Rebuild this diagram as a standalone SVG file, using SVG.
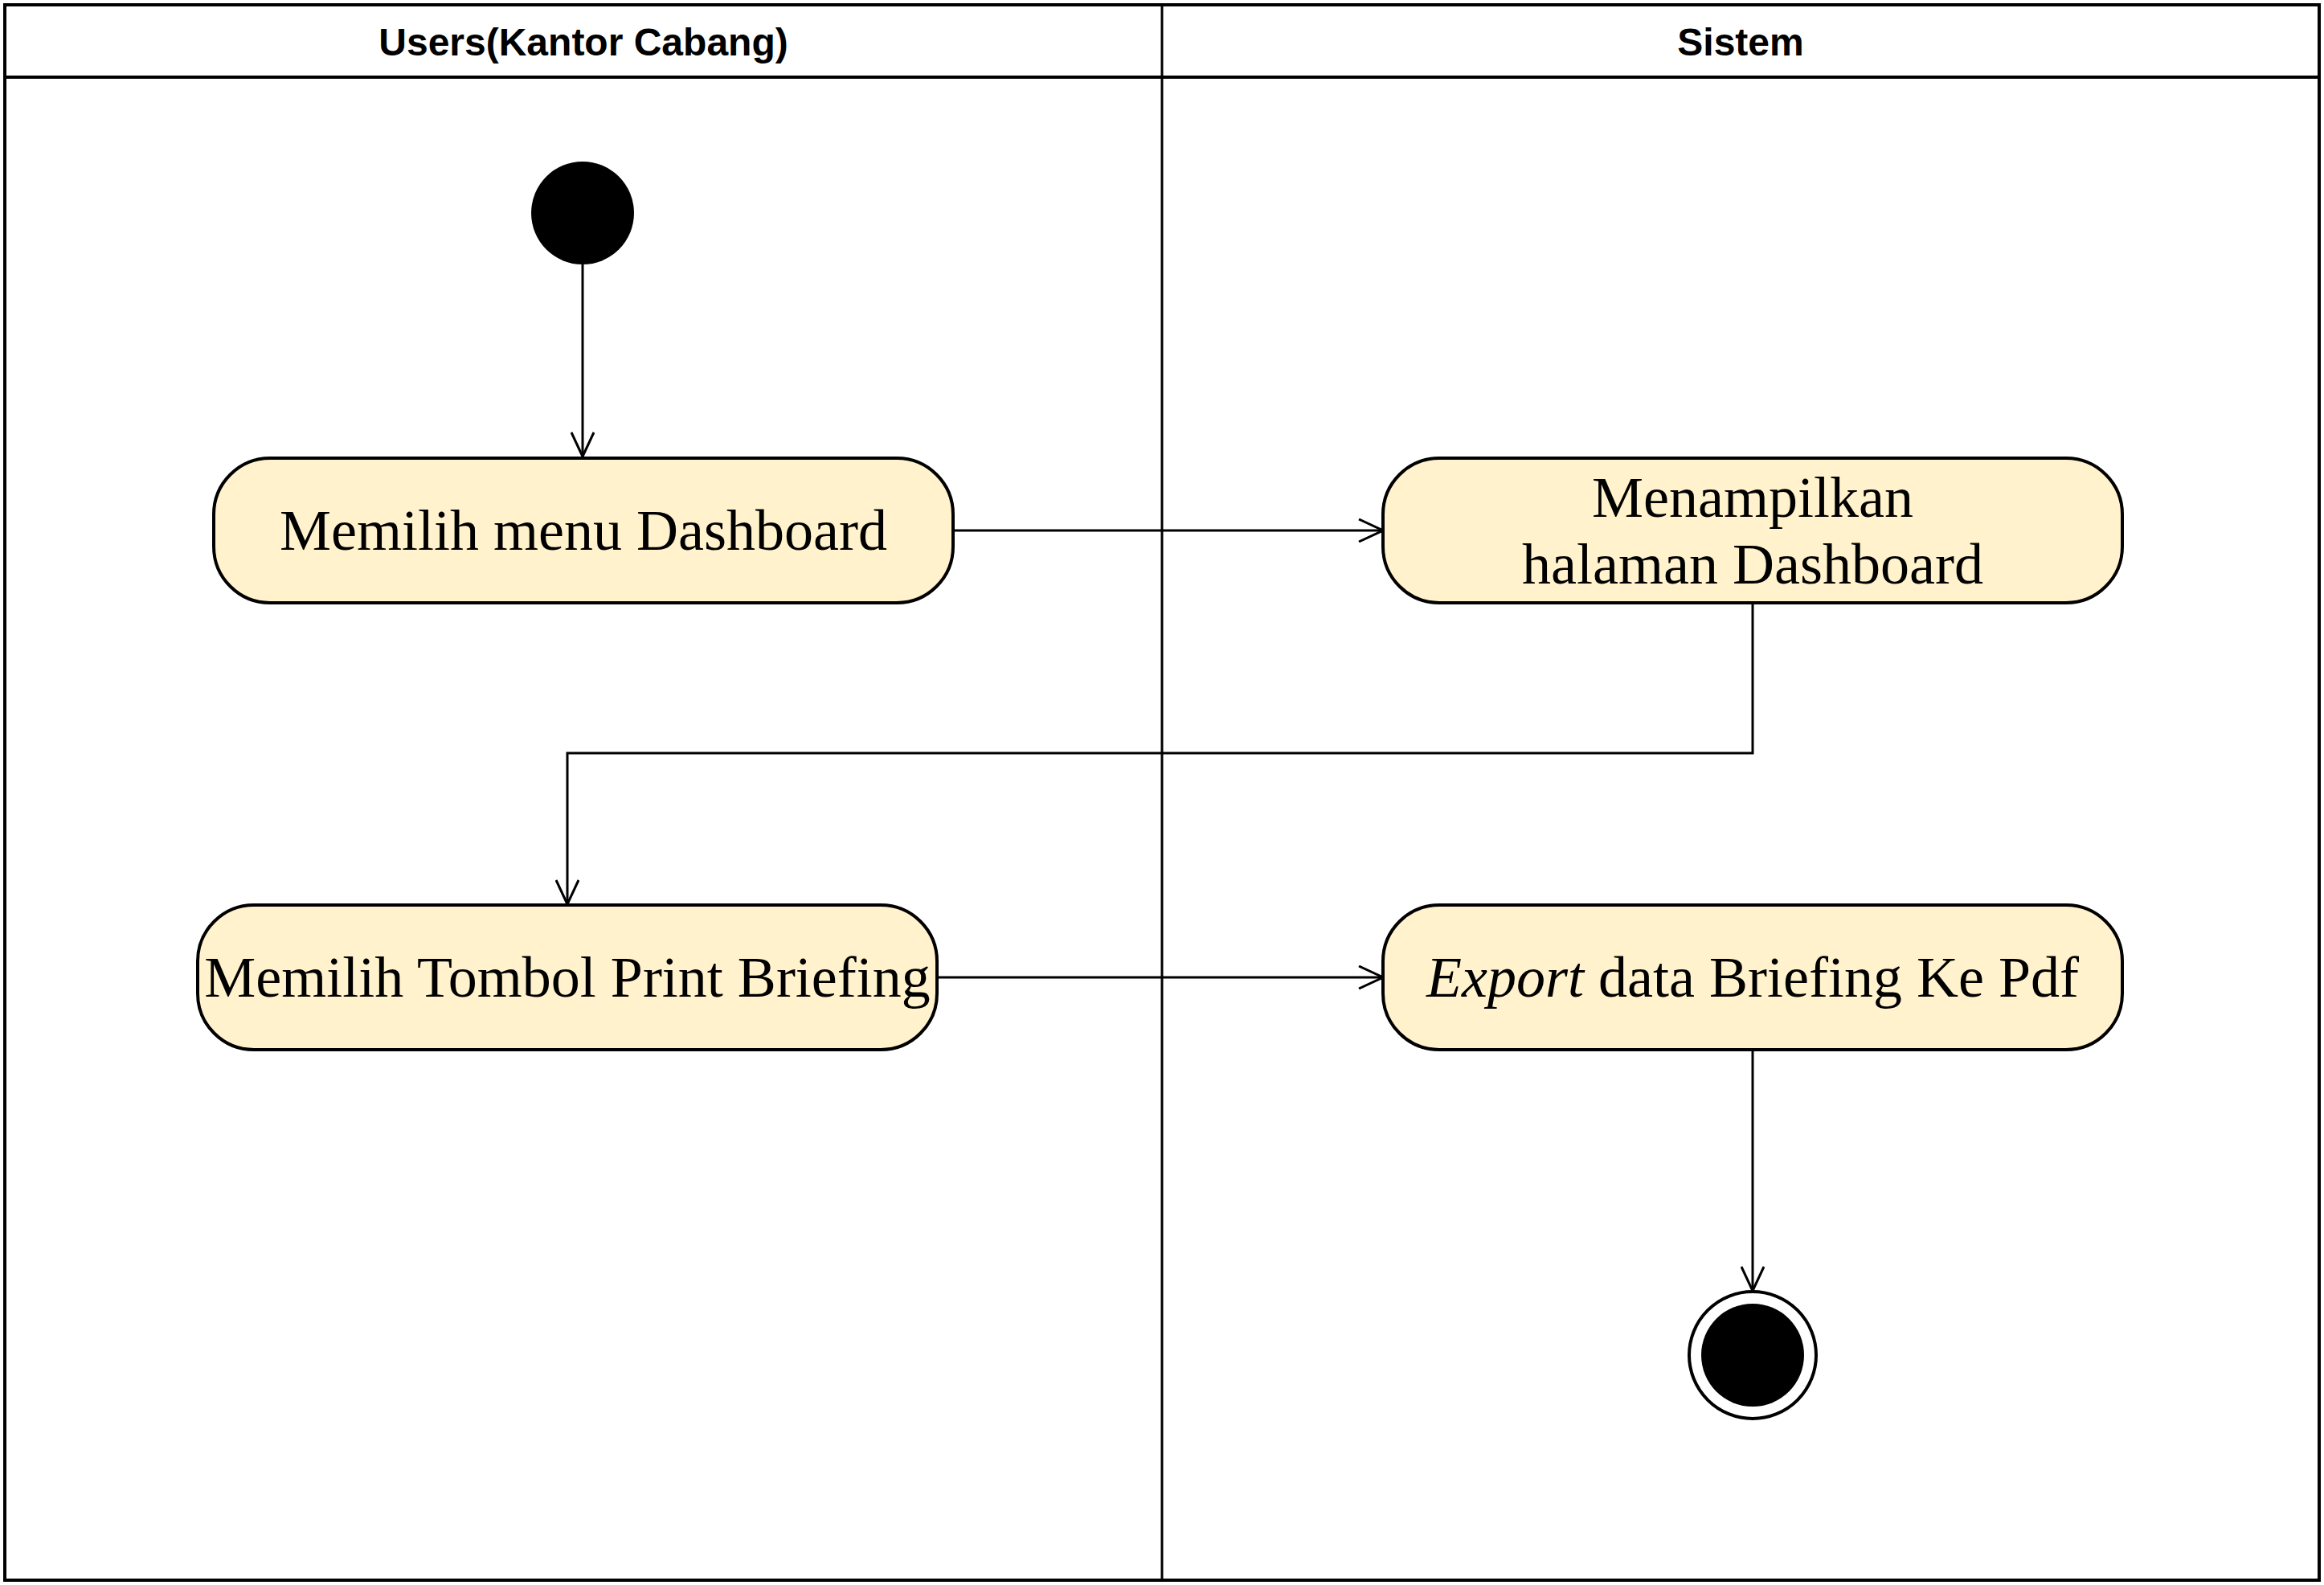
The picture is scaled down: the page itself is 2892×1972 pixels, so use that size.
<svg xmlns="http://www.w3.org/2000/svg" width="2892" height="1972" viewBox="0 0 2892 1972">
  <defs>
    <style>
      .pool { fill: none; stroke: #000; stroke-width: 4; }
      .lane { fill: none; stroke: #000; stroke-width: 3; }
      .hdr { font-family: "Liberation Sans", Arial, sans-serif; font-weight: bold; font-size: 48px; fill: #000; text-anchor: middle; }
      .act rect { fill: #FFF2CC; stroke: #000; stroke-width: 4; }
      .act text { font-family: "Liberation Serif", "Times New Roman", serif; font-size: 72px; fill: #000; text-anchor: middle; }
      .edge { fill: none; stroke: #000; stroke-width: 3; marker-end: url(#open); }
    </style>
    <marker id="open" viewBox="0 0 32 30" refX="31" refY="15" markerWidth="32" markerHeight="30" markerUnits="userSpaceOnUse" orient="auto">
      <path d="M1,1 L31,15 L1,29" fill="none" stroke="#000" stroke-width="3"/>
    </marker>
  </defs>
  <rect width="2892" height="1972" fill="#fff"/>

  <g id="pool">
    <rect class="pool" x="6" y="6" width="2880" height="1960"/>
    <line class="pool" x1="6" y1="96" x2="2886" y2="96"/>
    <line class="lane" x1="1446" y1="6" x2="1446" y2="1966"/>
    <text class="hdr" x="726" y="69">Users(Kantor Cabang)</text>
    <text class="hdr" x="2166" y="69">Sistem</text>
  </g>

  <g id="connectors">
    <path class="edge" d="M725,329 L725,568"/>
    <path class="edge" d="M1186,660 L1721,660"/>
    <path class="edge" d="M2181,750 L2181,937 L706,937 L706,1125"/>
    <path class="edge" d="M1166,1216 L1721,1216"/>
    <path class="edge" d="M2181,1306 L2181,1606"/>
  </g>

  <g id="start">
    <circle cx="725" cy="265" r="64" fill="#000"/>
  </g>

  <g id="act1" class="act">
    <rect x="266" y="570" width="920" height="180" rx="70" ry="70"/>
    <text x="726" y="684">Memilih menu Dashboard</text>
  </g>

  <g id="act2" class="act">
    <rect x="1721" y="570" width="920" height="180" rx="70" ry="70"/>
    <text x="2181" y="643">Menampilkan</text>
    <text x="2181" y="726">halaman Dashboard</text>
  </g>

  <g id="act3" class="act">
    <rect x="246" y="1126" width="920" height="180" rx="70" ry="70"/>
    <text x="706" y="1240">Memilih Tombol Print Briefing</text>
  </g>

  <g id="act4" class="act">
    <rect x="1721" y="1126" width="920" height="180" rx="70" ry="70"/>
    <text x="2181" y="1240"><tspan font-style="italic">Export</tspan> data Briefing Ke Pdf</text>
  </g>

  <g id="end">
    <circle cx="2181" cy="1686" r="79" fill="#fff" stroke="#000" stroke-width="4"/>
    <circle cx="2181" cy="1686" r="64" fill="#000"/>
  </g>
</svg>
